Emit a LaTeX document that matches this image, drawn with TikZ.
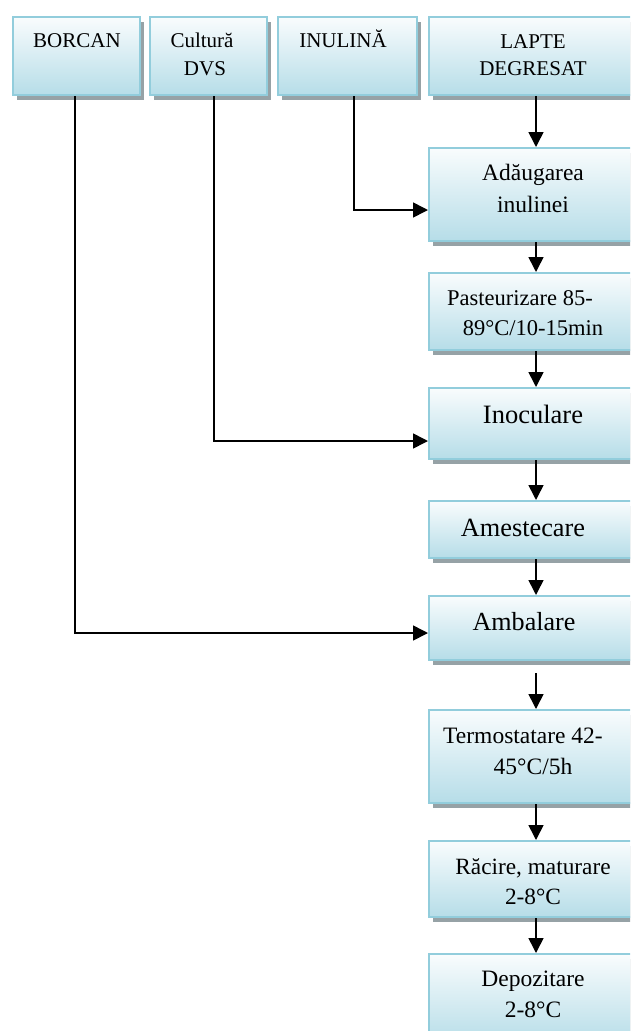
\documentclass[tikz,border=0pt]{standalone}
\usepackage{fontspec}
\setmainfont{Liberation Serif}
\usetikzlibrary{arrows.meta,shadows}
\definecolor{boxborder}{RGB}{146,205,220}
\definecolor{boxtop}{RGB}{249,252,253}
\definecolor{boxbot}{RGB}{182,221,232}
\definecolor{shadowgray}{RGB}{150,162,166}
\newcommand\fs[2]{\fontsize{#1}{#2}\selectfont}
\newcommand\twol[2]{\begin{tabular}[t]{@{}c@{}}#1\\#2\end{tabular}}
\begin{document}
\begin{tikzpicture}[x=1pt,y=-1pt,
  box/.style={rectangle, draw=boxborder, line width=2pt, top color=boxtop, bottom color=boxbot,
    anchor=north west, inner sep=0pt,
    drop shadow={shadow xshift=4pt, shadow yshift=-5pt, fill=shadowgray, opacity=1}},
  arr/.style={line width=1.6pt, -{Triangle[length=15pt,width=15pt]}},
  txt/.style={anchor=base, inner sep=0pt}]
\clip (0,0) rectangle (630,1031);
\fill[white] (0,0) rectangle (630,1031);
% top row
\node[box, minimum width=127pt, minimum height=78pt] (bor) at (12,16) {};
\node[box, minimum width=117pt, minimum height=78pt] (cul) at (149,16) {};
\node[box, minimum width=139pt, minimum height=78pt] (inu) at (277,16) {};
\node[box, minimum width=214pt, minimum height=78pt] (lap) at (428,16) {};
\node[txt, font=\fs{21}{28}] (tbor) at (77,47) {BORCAN};
\node[txt, font=\fs{21}{28}] (tcul) at (205,47) {\twol{Cultură\hspace*{6pt}}{DVS}};
\node[txt, font=\fs{21}{28}] (tinu) at (343,47) {INULINĂ};
\node[txt, font=\fs{21}{27}] (tlap) at (533,48) {\twol{LAPTE}{DEGRESAT}};
% right column
\node[box, minimum width=214pt, minimum height=93pt] (adg) at (428,147) {};
\node[box, minimum width=214pt, minimum height=77pt] (pas) at (428,272) {};
\node[box, minimum width=214pt, minimum height=71pt] (ino) at (428,387) {};
\node[box, minimum width=214pt, minimum height=57pt] (ame) at (428,500) {};
\node[box, minimum width=214pt, minimum height=64pt] (amb) at (428,595) {};
\node[box, minimum width=214pt, minimum height=93pt] (ter) at (428,709) {};
\node[box, minimum width=214pt, minimum height=76pt] (rac) at (428,840) {};
\node[box, minimum width=214pt, minimum height=90pt] (dep) at (428,953) {};
\node[txt, font=\fs{23.5}{32}] (tadg) at (533,180) {\twol{Adăugarea}{inulinei}};
\node[txt, font=\fs{22.5}{30}] (tpas) at (533,305) {\twol{Pasteurizare 85-\hspace*{26pt}}{89°C/10-15min}};
\node[txt, font=\fs{26.5}{31}] (tino) at (533,423) {Inoculare};
\node[txt, font=\fs{26.3}{31}] (tame) at (523,536) {Amestecare};
\node[txt, font=\fs{26.1}{31}] (tamb) at (524,630) {Ambalare};
\node[txt, font=\fs{23.5}{31}] (tter) at (533,743) {\twol{Termostatare 42-\hspace*{20pt}}{45°C/5h}};
\node[txt, font=\fs{23.3}{30}] (trac) at (533,874) {\twol{Răcire, maturare}{2-8°C}};
\node[txt, font=\fs{23.5}{31}] (tdep) at (533,986) {\twol{Depozitare}{2-8°C}};
% vertical arrows
\draw[arr] (lap.south) -- (adg.north);
\draw[arr] (adg.south) -- (pas.north);
\draw[arr] (pas.south) -- (ino.north);
\draw[arr] (ino.south) -- (ame.north);
\draw[arr] (ame.south) -- (amb.north);
\draw[arr] ([yshift=-12pt]amb.south) -- (ter.north);
\draw[arr] (ter.south) -- (rac.north);
\draw[arr] (rac.south) -- (dep.north);
% side feeds
\draw[arr] ([xshift=6.5pt]inu.south) |- ([yshift=-15.5pt]adg.west);
\draw[arr] ([xshift=5.5pt]cul.south) |- ([yshift=-17.5pt]ino.west);
\draw[arr] ([xshift=-1.5pt]bor.south) |- ([yshift=-5pt]amb.west);
\end{tikzpicture}
\end{document}
